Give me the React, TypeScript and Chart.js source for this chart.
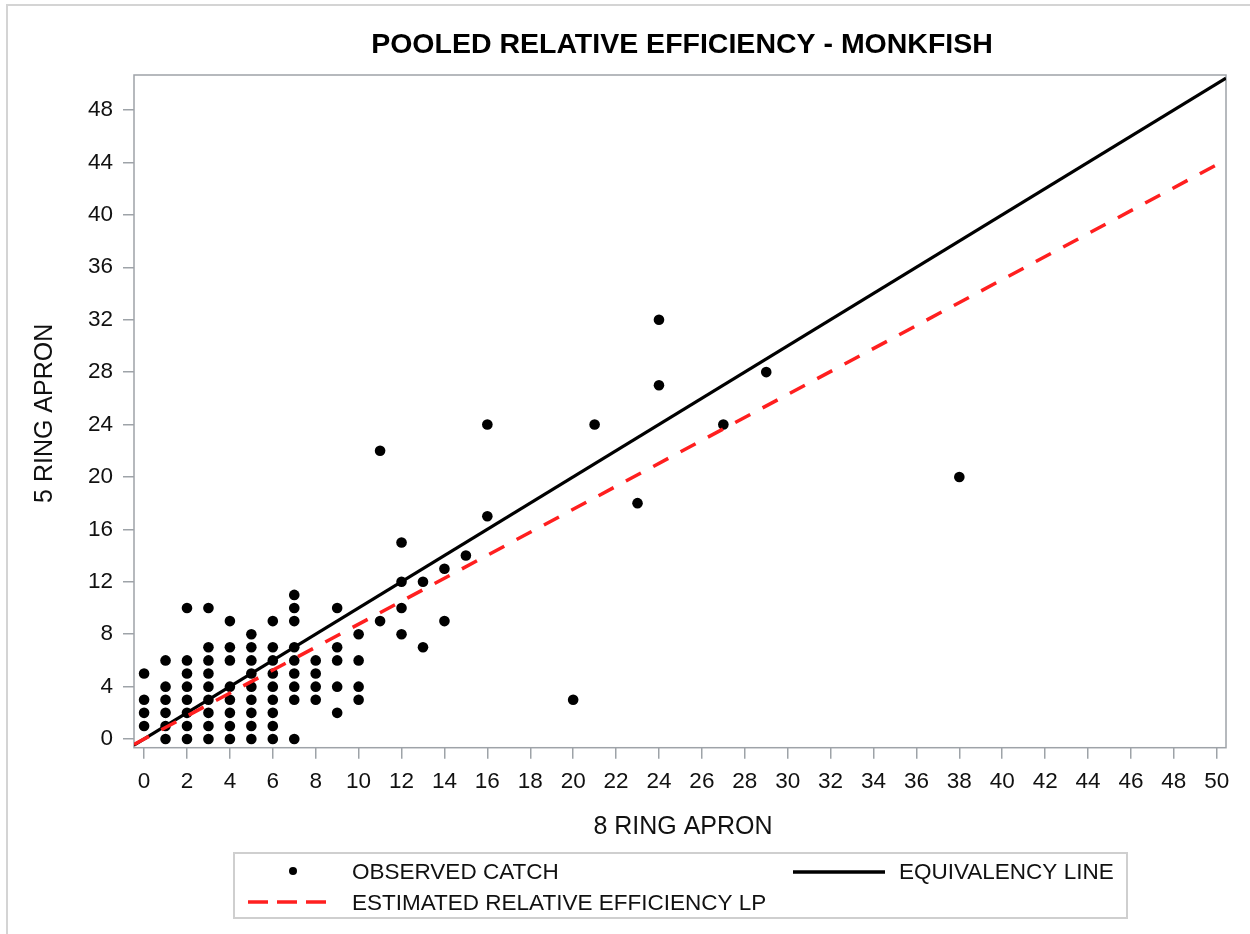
import React, { useEffect, useRef } from "react";
import { Chart, registerables } from "chart.js";

Chart.register(...registerables);

const titleText = "POOLED RELATIVE EFFICIENCY - MONKFISH";
const xAxisTitle = "8 RING APRON";
const yAxisTitle = "5 RING APRON";
const legendObserved = "OBSERVED CATCH";
const legendEquiv = "EQUIVALENCY LINE";
const legendEstimated = "ESTIMATED RELATIVE EFFICIENCY LP";

const xTicks = [0, 2, 4, 6, 8, 10, 12, 14, 16, 18, 20, 22, 24, 26, 28, 30, 32, 34, 36, 38, 40, 42, 44, 46, 48, 50];
const yTicks = [0, 4, 8, 12, 16, 20, 24, 28, 32, 36, 40, 44, 48];

// Observed catch: 8 ring apron (x) vs 5 ring apron (y)
const obsX = [
  0, 0, 0, 0,
  1, 1, 1, 1, 1, 1,
  2, 2, 2, 2, 2, 2, 2, 2,
  3, 3, 3, 3, 3, 3, 3, 3, 3,
  4, 4, 4, 4, 4, 4, 4, 4,
  5, 5, 5, 5, 5, 5, 5, 5, 5,
  6, 6, 6, 6, 6, 6, 6, 6, 6,
  7, 7, 7, 7, 7, 7, 7, 7, 7,
  8, 8, 8, 8,
  9, 9, 9, 9, 9,
  10, 10, 10, 10,
  11, 11,
  12, 12, 12, 12,
  13, 13,
  14, 14,
  15,
  16, 16,
  20, 21, 23, 24, 24, 27, 29, 38,
];
const obsY = [
  1, 2, 3, 5,
  0, 1, 2, 3, 4, 6,
  0, 1, 2, 3, 4, 5, 6, 10,
  0, 1, 2, 3, 4, 5, 6, 7, 10,
  0, 1, 2, 3, 4, 6, 7, 9,
  0, 1, 2, 3, 4, 5, 6, 7, 8,
  0, 1, 2, 3, 4, 5, 6, 7, 9,
  0, 3, 4, 5, 6, 7, 9, 10, 11,
  3, 4, 5, 6,
  2, 4, 6, 7, 10,
  3, 4, 6, 8,
  9, 22,
  8, 10, 12, 15,
  7, 12,
  9, 13,
  14,
  17, 24,
  3, 24, 18, 27, 32, 24, 28, 20,
];

// Reference lines (end points at the axis limits)
const equivX = [-0.47, 50.43];
const equivY = [-0.47, 50.43];
const estX = [-0.47, 50.43];
const estY = [-0.41, 44.2];

const FONT = "'Liberation Sans', Arial, Helvetica, sans-serif";
const AXIS_GRAY = "#9ea3a8";

const decorPlugin = {
  id: "decor",
  beforeDatasetsDraw(chart: any) {
    const { ctx, chartArea } = chart;
    ctx.save();
    ctx.strokeStyle = AXIS_GRAY;
    ctx.lineWidth = 1.5;
    ctx.strokeRect(chartArea.left, chartArea.top, chartArea.right - chartArea.left, chartArea.bottom - chartArea.top);
    ctx.restore();
  },
  afterDraw(chart: any) {
    const { ctx, chartArea } = chart;
    ctx.save();
    // outer frame
    ctx.strokeStyle = "#d4d4d4";
    ctx.lineWidth = 2;
    ctx.strokeRect(7, 5, 1260, 950);

    const cx = (chartArea.left + chartArea.right) / 2;
    ctx.fillStyle = "#000";
    ctx.textBaseline = "alphabetic";
    // title
    ctx.font = `bold 28.5px ${FONT}`;
    ctx.textAlign = "center";
    ctx.fillText(titleText, cx + 2, 53);
    // x axis title
    ctx.font = `25px ${FONT}`;
    ctx.fillStyle = "#111";
    ctx.fillText(xAxisTitle, cx + 3, 834);
    // y axis title
    ctx.save();
    ctx.translate(52, (chartArea.top + chartArea.bottom) / 2 + 2);
    ctx.rotate(-Math.PI / 2);
    ctx.fillText(yAxisTitle, 0, 0);
    ctx.restore();

    // legend
    ctx.strokeStyle = "#cfcfcf";
    ctx.lineWidth = 2;
    ctx.strokeRect(234, 853, 893, 65);
    ctx.font = `22.5px ${FONT}`;
    ctx.textAlign = "left";
    ctx.fillStyle = "#111";
    // observed
    ctx.beginPath();
    ctx.arc(293, 871, 4, 0, Math.PI * 2);
    ctx.fillStyle = "#000";
    ctx.fill();
    ctx.fillStyle = "#111";
    ctx.fillText(legendObserved, 352, 879);
    // equivalency
    ctx.beginPath();
    ctx.strokeStyle = "#000";
    ctx.lineWidth = 3.5;
    ctx.moveTo(793, 872);
    ctx.lineTo(885, 872);
    ctx.stroke();
    ctx.fillText(legendEquiv, 899, 879);
    // estimated
    ctx.beginPath();
    ctx.strokeStyle = "#ff1f1f";
    ctx.lineWidth = 3.5;
    ctx.setLineDash([20, 9]);
    ctx.moveTo(248, 902);
    ctx.lineTo(326, 902);
    ctx.stroke();
    ctx.setLineDash([]);
    ctx.fillText(legendEstimated, 352, 910);
    ctx.restore();
  },
};

export default function App() {
  const canvasRef = useRef<HTMLCanvasElement | null>(null);

  useEffect(() => {
    const canvas = canvasRef.current;
    if (!canvas) return;
    const chart = new Chart(canvas, {
      type: "scatter",
      data: {
        datasets: [
          {
            type: "line",
            label: legendEstimated,
            data: estX.map((x, i) => ({ x, y: estY[i] })),
            borderColor: "#ff1f1f",
            borderWidth: 3.5,
            borderDash: [17, 14],
            pointRadius: 0,
            fill: false,
            showLine: true,
          } as any,
          {
            type: "line",
            label: legendEquiv,
            data: equivX.map((x, i) => ({ x, y: equivY[i] })),
            borderColor: "#000",
            borderWidth: 3.2,
            pointRadius: 0,
            fill: false,
            showLine: true,
          } as any,
          {
            type: "scatter",
            label: legendObserved,
            data: obsX.map((x, i) => ({ x, y: obsY[i] })),
            backgroundColor: "#000",
            borderColor: "#000",
            borderWidth: 0,
            pointRadius: 5.3,
          } as any,
        ],
      },
      options: {
        responsive: false,
        devicePixelRatio: 1,
        animation: false,
        layout: { padding: { left: 0, top: 75, right: 24, bottom: 0 } },
        plugins: {
          legend: { display: false },
          tooltip: { enabled: false },
          title: { display: false },
        },
        scales: {
          x: {
            type: "linear",
            min: -0.47,
            max: 50.43,
            afterBuildTicks: (axis: any) => {
              axis.ticks = xTicks.map((v) => ({ value: v }));
            },
            afterFit: (scale: any) => {
              scale.height = 934 - 747.7;
            },
            grid: {
              display: true,
              drawOnChartArea: false,
              drawTicks: true,
              tickLength: 11,
              color: AXIS_GRAY,
              lineWidth: 1.5,
            },
            border: { display: false },
            ticks: {
              autoSkip: false,
              maxRotation: 0,
              minRotation: 0,
              padding: 10,
              color: "#111",
              font: { family: FONT, size: 22.5 },
            },
          },
          y: {
            type: "linear",
            min: -0.66,
            max: 50.67,
            afterBuildTicks: (axis: any) => {
              axis.ticks = yTicks.map((v) => ({ value: v }));
            },
            afterFit: (scale: any) => {
              scale.width = 134;
            },
            grid: {
              display: true,
              drawOnChartArea: false,
              drawTicks: true,
              tickLength: 11,
              color: AXIS_GRAY,
              lineWidth: 1.5,
            },
            border: { display: false },
            ticks: {
              autoSkip: false,
              padding: 10,
              color: "#111",
              font: { family: FONT, size: 22.5 },
            },
          },
        },
      },
      plugins: [decorPlugin],
    });
    return () => chart.destroy();
  }, []);

  return (
    <div style={{ position: "absolute", left: 0, top: 0, width: 1250, height: 934, background: "#fff" }}>
      <canvas ref={canvasRef} width={1250} height={934} style={{ display: "block", width: 1250, height: 934 }} />
    </div>
  );
}
